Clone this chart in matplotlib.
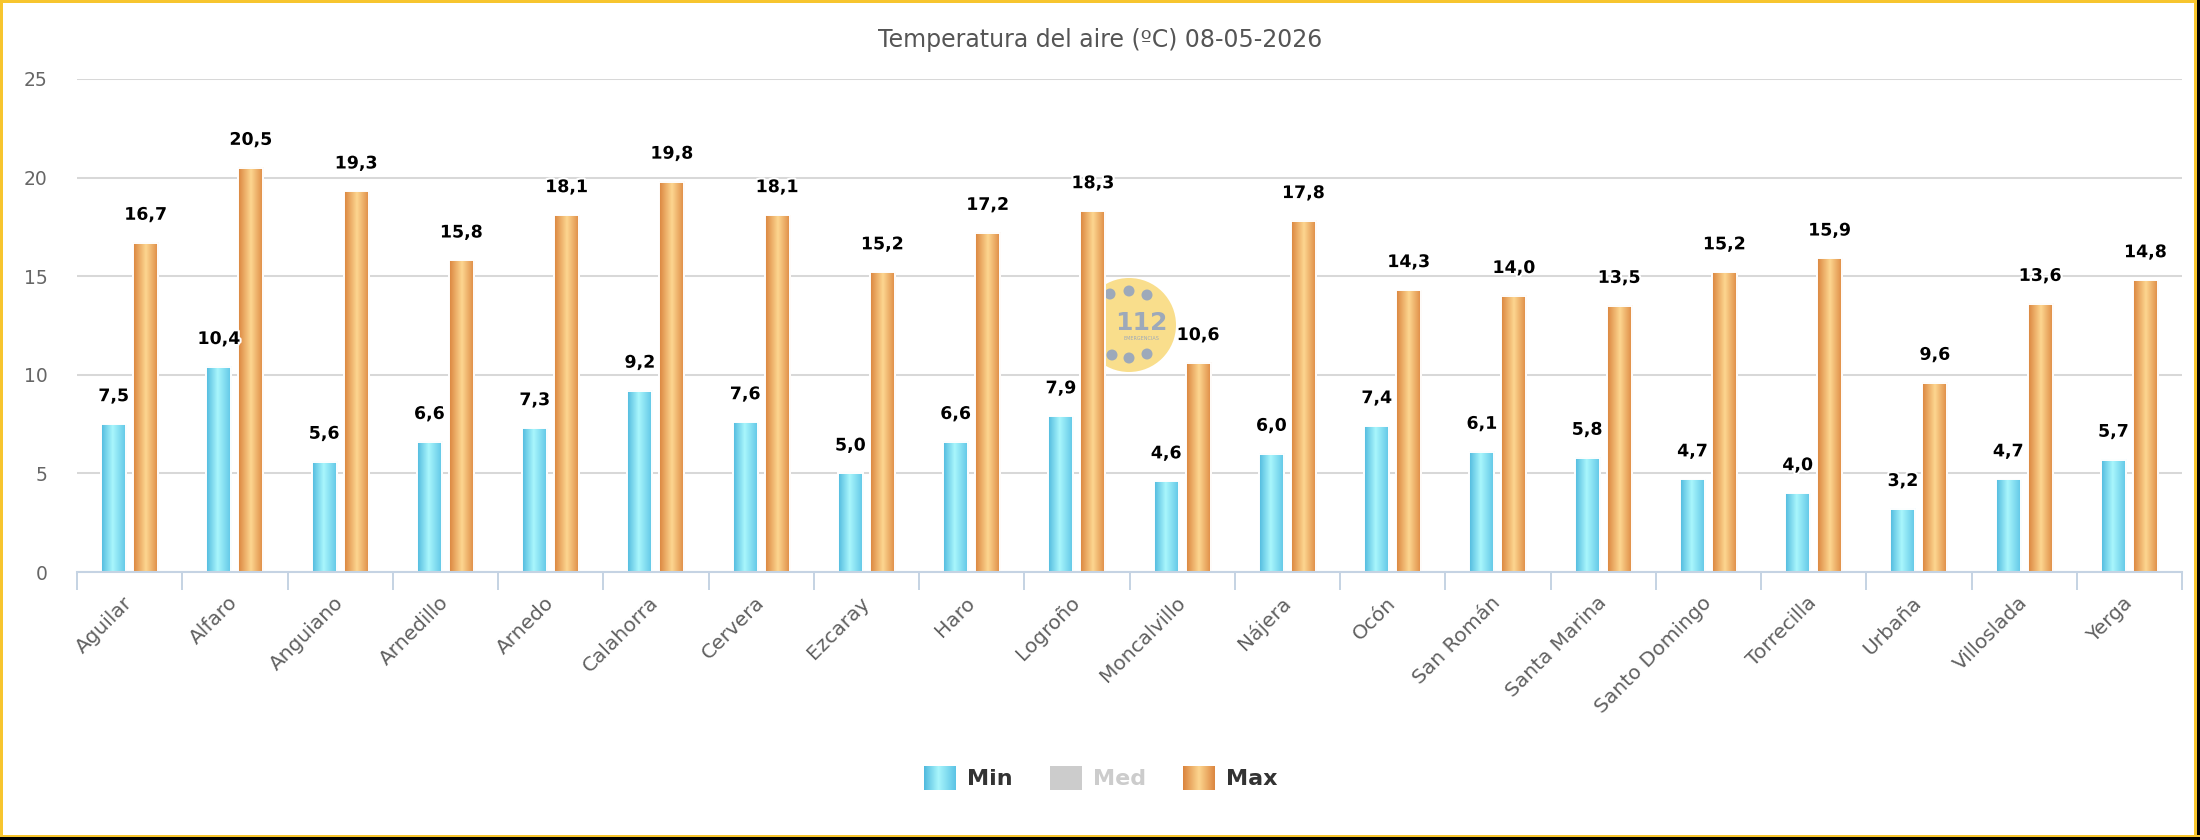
import matplotlib
matplotlib.use("Agg")
import matplotlib.pyplot as plt
import matplotlib.patheffects as pe
import numpy as np
from matplotlib.colors import LinearSegmentedColormap
from matplotlib.patches import Rectangle, Ellipse

# ---------------- data ----------------
stations = ["Aguilar", "Alfaro", "Anguiano", "Arnedillo", "Arnedo", "Calahorra",
            "Cervera", "Ezcaray", "Haro", "Logroño", "Moncalvillo", "Nájera",
            "Ocón", "San Román", "Santa Marina", "Santo Domingo", "Torrecilla",
            "Urbaña", "Villoslada", "Yerga"]
t_min = [7.5, 10.4, 5.6, 6.6, 7.3, 9.2, 7.6, 5.0, 6.6, 7.9,
         4.6, 6.0, 7.4, 6.1, 5.8, 4.7, 4.0, 3.2, 4.7, 5.7]
t_max = [16.7, 20.5, 19.3, 15.8, 18.1, 19.8, 18.1, 15.2, 17.2, 18.3,
         10.6, 17.8, 14.3, 14.0, 13.5, 15.2, 15.9, 9.6, 13.6, 14.8]
y_ticks = [0, 5, 10, 15, 20, 25]
title = "Temperatura del aire (ºC) 08-05-2026"
legend_labels = ["Min", "Med", "Max"]

# ---------------- style ----------------
W, H = 2200, 840
fig = plt.figure(figsize=(W / 100, H / 100), dpi=100)
fig.patch.set_facecolor("white")


def px(x0, y0, x1, y1):
    return [x0 / W, 1 - y1 / H, (x1 - x0) / W, (y1 - y0) / H]


cmap_min = LinearSegmentedColormap.from_list(
    "cmin", [(0, "#4FB9DE"), (0.45, "#A9F6FC"), (1, "#5BC3E5")])
cmap_max = LinearSegmentedColormap.from_list(
    "cmax", [(0, "#DA833C"), (0.5, "#FDD690"), (1, "#DC863F")])
grad = np.linspace(0, 1, 128).reshape(1, -1)

ax = fig.add_axes(px(77, 79, 2182, 572))
ax.patch.set_visible(False)

n = len(stations)
x = np.arange(n)
bw = 0.238
off = 0.152

# watermark (112 logo) behind the bars
wm_cx, wm_cy, wm_r = 1129, 325, 47
ax.add_patch(Ellipse((wm_cx / W, 1 - wm_cy / H), 2 * wm_r / W, 2 * wm_r / H,
                     transform=fig.transFigure, facecolor="#F9DE8C",
                     edgecolor="none", zorder=0.8, clip_on=False))
for dx, dy in [(-19, -31), (0, -34), (18, -30), (-17, 30), (0, 33), (18, 29)]:
    ax.add_patch(Ellipse(((wm_cx + dx) / W, 1 - (wm_cy + dy) / H), 11 / W, 11 / H,
                         transform=fig.transFigure, facecolor="#9DA9BA",
                         edgecolor="none", zorder=0.9, clip_on=False))
fig.text((wm_cx + 12) / W, 1 - (wm_cy - 2) / H, "112", ha="center", va="center",
         fontsize=18, fontweight="bold", color="#9DA9BA", zorder=0.9)
fig.text((wm_cx + 12) / W, 1 - (wm_cy + 14) / H, "EMERGENCIAS", ha="center",
         va="center", fontsize=3.5, color="#9DA9BA")

# bars with gradients
for vals, sign, cmap in [(t_min, -1, cmap_min), (t_max, 1, cmap_max)]:
    xs = x + sign * off
    bars = ax.bar(xs, vals, bw, facecolor="none", edgecolor="white",
                  linewidth=1.4, zorder=3)
    for b, v in zip(bars, vals):
        x0 = b.get_x()
        ax.imshow(grad, cmap=cmap, extent=[x0, x0 + bw, 0, v], aspect="auto",
                  interpolation="bilinear", zorder=2.5)
        ax.annotate(f"{v:.1f}".replace(".", ","), (x0 + bw / 2, v),
                    xytext=(0, 16.5), textcoords="offset points",
                    ha="center", va="baseline", fontsize=12.5,
                    fontweight="bold", color="black", zorder=6,
                    path_effects=[pe.withStroke(linewidth=3, foreground="white")])

ax.set_xlim(-0.5, n - 0.5)
ax.set_ylim(0, 25)

# axes styling
for s in ["top", "right", "left"]:
    ax.spines[s].set_visible(False)
ax.spines["bottom"].set_color("#C5D3E3")
ax.spines["bottom"].set_linewidth(1.5)
ax.spines["bottom"].set_zorder(5)

ax.set_yticks(y_ticks)
ax.set_yticklabels([str(v) for v in y_ticks])
ax.tick_params(axis="y", length=0, pad=21, labelsize=13.5, labelcolor="#666666")
ax.yaxis.grid(True, color="#D8D8D8", linewidth=1.45)
ax.set_axisbelow(True)

ax.set_xticks(x)
ax.set_xticklabels(stations)
ax.set_xticks(np.arange(-0.5, n, 1.0), minor=True)
ax.tick_params(axis="x", which="major", length=0, pad=20, labelsize=14.5,
               labelcolor="#606060")
ax.tick_params(axis="x", which="minor", length=13, width=1.4, color="#C5D3E3",
               direction="out")
for lab in ax.get_xticklabels():
    lab.set_rotation(45)
    lab.set_ha("right")
    lab.set_va("center")
    lab.set_rotation_mode("anchor")

# title
fig.text(0.5, 1 - 40 / H, title, ha="center", va="center", fontsize=17,
         color="#555555")

# legend (manual, with gradient swatches)
leg_items = [
    (legend_labels[0], 924, cmap_min, "#333333"),
    (legend_labels[1], 1050, None, "#CCCCCC"),
    (legend_labels[2], 1183, cmap_max, "#333333"),
]
for label, lx, cmap, tcol in leg_items:
    sw = fig.add_axes(px(lx, 766, lx + 32, 790))
    sw.set_axis_off()
    if cmap is not None:
        sw.imshow(grad, cmap=cmap, aspect="auto", extent=[0, 1, 0, 1],
                  interpolation="bilinear")
    else:
        sw.add_patch(Rectangle((0, 0), 1, 1, facecolor="#CCCCCC"))
    sw.set_xlim(0, 1)
    sw.set_ylim(0, 1)
    fig.text((lx + 43) / W, 1 - 779 / H, label, ha="left", va="center",
             fontsize=16, fontweight="bold", color=tcol)

# frame
frame = [
    (0, 0, W, 3, "#F7C52E"),
    (0, 0, 3, H, "#F7C52E"),
    (W - 6, 0, 3, H, "#F7C52E"),
    (W - 3, 0, 3, H, "#000000"),
    (0, H - 5, W, 2, "#F7C52E"),
    (0, H - 3, W, 3, "#000000"),
]
for fx, fy, fw, fh, fc in frame:
    fig.patches.append(Rectangle((fx / W, 1 - (fy + fh) / H), fw / W, fh / H,
                                 transform=fig.transFigure, facecolor=fc,
                                 edgecolor="none", zorder=10))

fig.savefig("out.png", dpi=100)
